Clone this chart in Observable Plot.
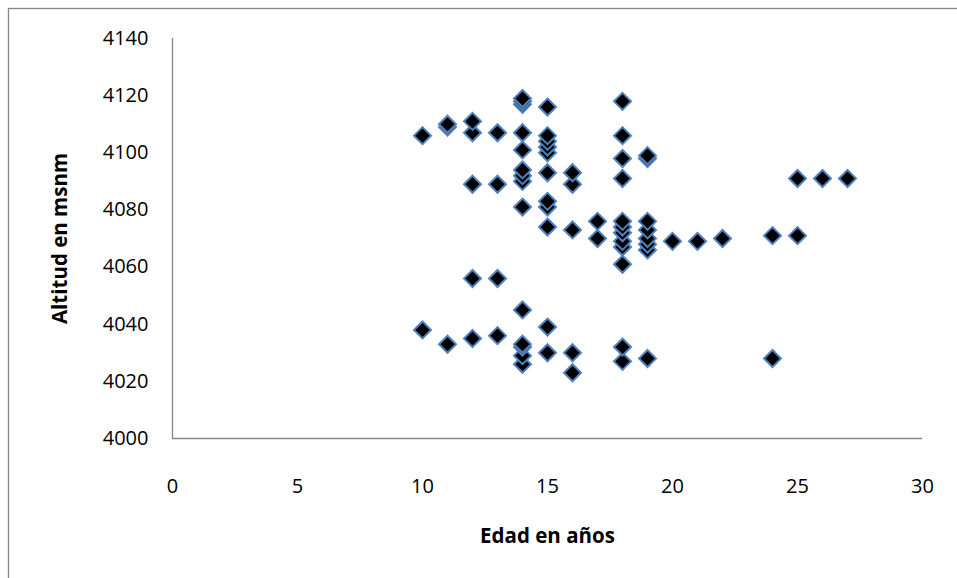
<!DOCTYPE html>
<html>
<head>
<meta charset="utf-8">
<script src="https://cdn.jsdelivr.net/npm/d3@7"></script>
<script src="https://cdn.jsdelivr.net/npm/@observablehq/plot@0.6"></script>
<style>
  html, body { margin: 0; padding: 0; background: #fff; }
  svg { display: block; }
</style>
</head>
<body>
<div id="chart"></div>
<script>
// Edad (años) y altitud (msnm) de cada observación
const edad = [
  10, 10,
  11, 11, 11,
  12, 12, 12, 12, 12,
  13, 13, 13, 13,
  14, 14, 14, 14, 14, 14, 14, 14, 14, 14, 14, 14, 14, 14,
  15, 15, 15, 15, 15, 15, 15, 15, 15, 15, 15,
  16, 16, 16, 16, 16,
  17, 17,
  18, 18, 18, 18, 18, 18, 18, 18, 18, 18, 18, 18,
  19, 19, 19, 19, 19, 19, 19, 19,
  20, 21, 22,
  24, 24,
  25, 25,
  26, 27
];
const altitud = [
  4106, 4038,
  4110, 4109, 4033,
  4111, 4107, 4089, 4056, 4035,
  4107, 4089, 4056, 4036,
  4119, 4118, 4117, 4107, 4101, 4094, 4092, 4090, 4081, 4045, 4033, 4032, 4029, 4026,
  4116, 4106, 4104, 4102, 4100, 4093, 4083, 4081, 4074, 4039, 4030,
  4093, 4089, 4073, 4030, 4023,
  4076, 4070,
  4118, 4106, 4098, 4091, 4076, 4074, 4072, 4069, 4067, 4061, 4032, 4027,
  4099, 4098, 4076, 4073, 4070, 4068, 4066, 4028,
  4069, 4069, 4070,
  4071, 4028,
  4091, 4071,
  4091, 4091
];
const xTicks = [0, 5, 10, 15, 20, 25, 30];
const yTicks = [4000, 4020, 4040, 4060, 4080, 4100, 4120, 4140];

// higher points are painted last so they sit on top of the stack
const puntos = edad.map((e, i) => ({edad: e, altitud: altitud[i]}))
  .sort((a, b) => a.altitud - b.altitud);

// square rotated 45°, half-diagonal equal to the dot radius
const rombo = {
  draw(ctx, size) {
    const r = Math.sqrt(size / Math.PI);
    ctx.moveTo(0, -r);
    ctx.lineTo(r, 0);
    ctx.lineTo(0, r);
    ctx.lineTo(-r, 0);
    ctx.closePath();
  }
};

const font = "'Open Sans', 'Liberation Sans', sans-serif";
const axisGray = "#868686";

const chart = Plot.plot({
  width: 957,
  height: 578,
  marginLeft: 172,
  marginRight: 35,
  marginTop: 38,
  marginBottom: 140,
  style: {fontFamily: font, background: "#fff", overflow: "visible"},
  x: {domain: [0, 30]},
  y: {domain: [4000, 4140]},
  marks: [
    Plot.axisX(xTicks, {tickSize: 0, tickPadding: 40, fontSize: 20, fill: "#000", label: null, tickFormat: d => String(d)}),
    Plot.axisY(yTicks, {tickSize: 0, tickPadding: 24, fontSize: 20, fill: "#000", label: null, tickFormat: d => String(d)}),
    Plot.ruleX([0], {y1: 4000, y2: 4140, stroke: axisGray, strokeWidth: 1.3}),
    Plot.ruleY([4000], {x1: 0, x2: 30, stroke: axisGray, strokeWidth: 1.3}),
    Plot.dot(puntos, {
      x: "edad",
      y: "altitud",
      symbol: rombo,
      r: 8.5,
      fill: "#000",
      stroke: "#4f81bd",
      strokeWidth: 2
    }),
    Plot.text(["Edad en años"], {
      frameAnchor: "bottom", dy: 98, lineAnchor: "middle", textAnchor: "middle",
      fontSize: 20.5, fontWeight: "bold", fill: "#000"
    }),
    Plot.text(["Altitud en msnm"], {
      frameAnchor: "left", dx: -112, rotate: -90, lineAnchor: "middle", textAnchor: "middle",
      fontSize: 20.5, fontWeight: "bold", fill: "#000"
    })
  ]
});

// chart area border
d3.select(chart).insert("rect", ":first-child")
  .attr("x", 8.5).attr("y", 8.5)
  .attr("width", 960).attr("height", 580)
  .attr("fill", "#fff")
  .attr("stroke", axisGray)
  .attr("stroke-width", 1.3);

document.getElementById("chart").appendChild(chart);
</script>
</body>
</html>
